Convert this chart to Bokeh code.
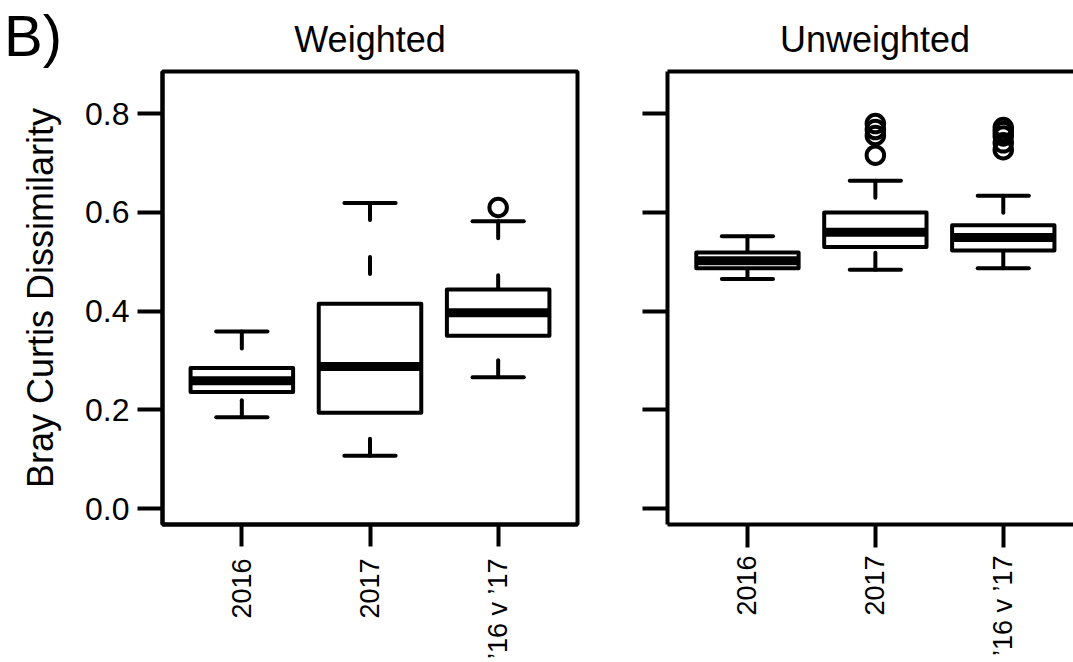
import math

from bokeh.plotting import figure
from bokeh.layouts import row, column
from bokeh.models import FixedTicker, LinearAxis, Range1d
from bokeh.core.properties import value
from bokeh.embed import file_html
from bokeh.resources import INLINE

# Box-plot summaries (lower whisker, hinges, median, upper whisker, outliers)
categories = ["2016", "2017", "\u201916 v \u201917"]

weighted_lower = [0.185, 0.107, 0.266]
weighted_q1 = [0.236, 0.194, 0.350]
weighted_median = [0.259, 0.288, 0.397]
weighted_q3 = [0.285, 0.415, 0.444]
weighted_upper = [0.359, 0.619, 0.582]
weighted_outliers = [[], [], [0.610]]

unweighted_lower = [0.465, 0.484, 0.487]
unweighted_q1 = [0.487, 0.530, 0.523]
unweighted_median = [0.502, 0.560, 0.549]
unweighted_q3 = [0.519, 0.600, 0.574]
unweighted_upper = [0.552, 0.664, 0.634]
unweighted_outliers = [[], [0.780, 0.768, 0.756, 0.716],
                       [0.772, 0.764, 0.755, 0.741, 0.727]]

y_ticks = [0.0, 0.2, 0.4, 0.6, 0.8]

panel_letter = "B)"
panel_titles = ["Weighted", "Unweighted"]

FONT = "Liberation Sans"
LW = 4


def draw_boxes(p, lower, q1, med, q3, upper, outliers):
    xs = [i + 1 for i in range(len(categories))]
    half, staple = 0.4, 0.2
    # dashed whiskers, drawn from the whisker end back to the hinge
    p.segment(x0=xs, y0=upper, x1=xs, y1=q3, line_width=LW, line_color="black",
              line_dash="17 37", line_cap="round")
    p.segment(x0=xs, y0=lower, x1=xs, y1=q1, line_width=LW, line_color="black",
              line_dash="17 37", line_cap="round")
    # staples
    for ends in (upper, lower):
        p.segment(x0=[x - staple for x in xs], y0=ends, x1=[x + staple for x in xs], y1=ends,
                  line_width=LW, line_color="black", line_cap="round")
    # boxes and medians
    p.quad(left=[x - half for x in xs], right=[x + half for x in xs], bottom=q1, top=q3,
           fill_color="white", line_color="black", line_width=LW, line_join="round")
    p.segment(x0=[x - half for x in xs], y0=med, x1=[x + half for x in xs], y1=med,
              line_width=9, line_color="black", line_cap="butt")
    ox, oy = [], []
    for x, vals in zip(xs, outliers):
        ox += [x] * len(vals)
        oy += vals
    if oy:
        p.scatter(ox, oy, marker="circle", size=17.5, fill_color=None,
                  line_color="black", line_width=LW)


def style(p):
    p.xgrid.visible = False
    p.ygrid.visible = False
    p.background_fill_color = "white"
    p.border_fill_color = "white"
    for ax in p.xaxis + p.yaxis:
        ax.axis_line_width = LW
        ax.axis_line_color = "black"
        ax.major_tick_line_width = LW
        ax.major_tick_line_color = "black"
        ax.major_tick_in = 0
        ax.minor_tick_line_color = None
        ax.major_label_text_font = FONT
        ax.major_label_text_color = "black"
    p.xaxis.ticker = FixedTicker(ticks=[1, 2, 3])
    p.xaxis.major_label_overrides = {i + 1: c for i, c in enumerate(categories)}
    p.xaxis.major_label_orientation = math.pi / 2
    p.xaxis.major_label_text_font_size = "27px"
    p.yaxis.ticker = FixedTicker(ticks=y_ticks)
    p.yaxis.major_tick_out = 25


# Heading strip: panel letter and the two panel titles
head = figure(width=1073, height=68, x_range=Range1d(0, 1073), y_range=Range1d(68, 0),
              x_axis_type=None, y_axis_type=None, min_border=0,
              output_backend="svg", toolbar_location=None, title=None)
head.outline_line_color = None
head.background_fill_color = "white"
head.border_fill_color = "white"
head.text(x=[3.5], y=[35], text=[panel_letter], text_font=value(FONT),
          text_font_size="58px", text_align="left", text_baseline="alphabetic",
          text_color="black")
head.text(x=[369.5, 874.5], y=[39, 39], text=panel_titles, text_font=value(FONT),
          text_font_size="36px", text_align="center", text_baseline="alphabetic",
          text_color="black")

# Weighted panel
p1 = figure(width=620, height=594, x_range=(0.381, 3.619), y_range=(-0.0323, 0.8856),
            min_border_left=162, min_border_right=43, min_border_top=3, min_border_bottom=137,
            output_backend="svg", toolbar_location=None, title=None)
style(p1)
p1.outline_line_color = "black"
p1.outline_line_width = LW
p1.outline_line_alpha = 1
p1.xaxis.major_tick_out = 22
p1.xaxis.major_label_standoff = 12
p1.yaxis.major_label_standoff = 8
p1.yaxis.major_label_text_font_size = "32px"
p1.yaxis.major_label_overrides = {v: f"{v:.1f}" for v in y_ticks}
p1.yaxis.axis_label = "Bray Curtis Dissimilarity"
p1.yaxis.axis_label_text_font = FONT
p1.yaxis.axis_label_text_font_size = "36px"
p1.yaxis.axis_label_text_font_style = "normal"
p1.yaxis.axis_label_text_color = "black"
p1.yaxis.axis_label_standoff = 21
draw_boxes(p1, weighted_lower, weighted_q1, weighted_median, weighted_q3,
           weighted_upper, weighted_outliers)

# Unweighted panel (frame runs off the right-hand edge)
p2 = figure(width=453, height=594, x_range=(0.375, 3.549), y_range=(-0.0323, 0.8856),
            min_border_left=47, min_border_right=0, min_border_top=2, min_border_bottom=130,
            output_backend="svg", toolbar_location=None, title=None)
style(p2)
p2.outline_line_color = None
p2.xaxis.major_tick_out = 23
p2.xaxis.major_label_standoff = 8
p2.yaxis.major_label_overrides = {v: "" for v in y_ticks}
p2.yaxis.major_label_standoff = 0
top_line = LinearAxis(ticker=FixedTicker(ticks=[]), major_tick_out=0, major_tick_in=0,
                      axis_line_width=LW, axis_line_color="black",
                      major_label_text_font_size="0px")
p2.add_layout(top_line, "above")
draw_boxes(p2, unweighted_lower, unweighted_q1, unweighted_median, unweighted_q3,
           unweighted_upper, unweighted_outliers)

layout = column(head, row(p1, p2))
open("out.html", "w").write(file_html(layout, INLINE))
